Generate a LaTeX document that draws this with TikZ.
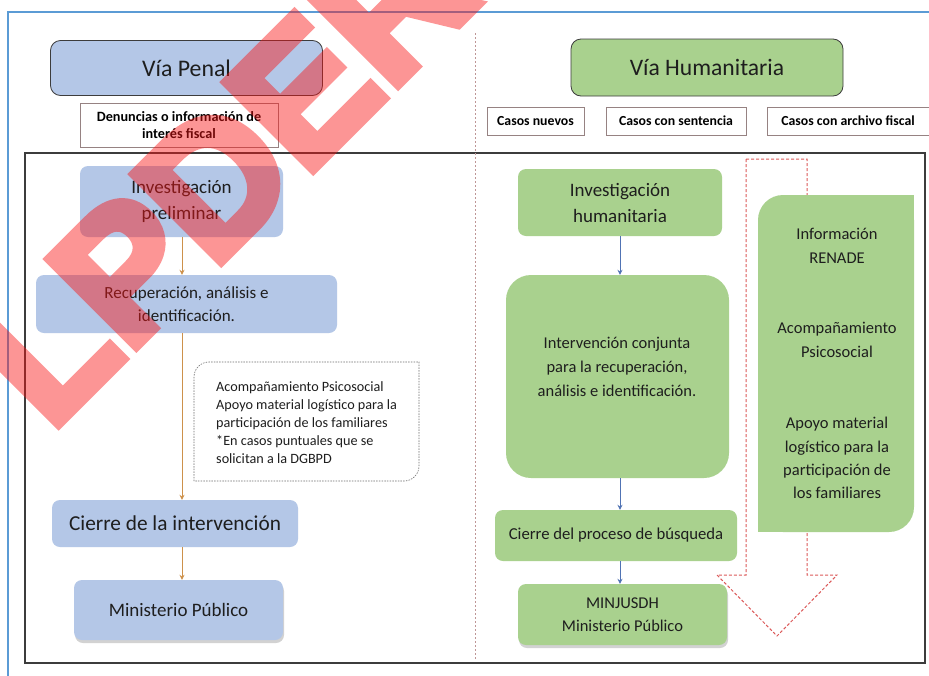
\documentclass[tikz,border=0pt]{standalone}
\usepackage{fontspec}
\setmainfont{Carlito}
\newfontfamily\wmfont[BoldFeatures={FakeBold=5}]{Liberation Sans}
\usetikzlibrary{arrows.meta,shadows}
\definecolor{bluefill}{RGB}{180,199,231}
\definecolor{greenfill}{RGB}{169,209,142}
\definecolor{framebl}{RGB}{91,155,213}
\definecolor{framedk}{RGB}{60,60,60}
\definecolor{txtdk}{RGB}{30,30,30}
\definecolor{lblborder}{RGB}{150,130,130}
\definecolor{orarr}{RGB}{205,145,75}
\definecolor{blarr}{RGB}{80,115,180}
\definecolor{divcol}{RGB}{190,150,150}
\definecolor{redarr}{RGB}{220,90,90}
\definecolor{notecol}{RGB}{110,110,110}
\definecolor{wmred}{RGB}{250,20,20}
\begin{document}
\begin{tikzpicture}[x=1pt,y=-1pt,
  pbox/.style={fill=bluefill, rounded corners=8pt, inner sep=0pt, align=center, text=txtdk},
  hbox/.style={fill=greenfill, rounded corners=8pt, inner sep=0pt, align=center, text=txtdk},
  lbl/.style={draw=lblborder, line width=0.6pt, fill=white, inner sep=0pt, align=center, text=black,
    font=\bfseries\fontsize{13.8}{16}\selectfont},
  parr/.style={draw=orarr, line width=1pt, -{Stealth[length=5pt,width=5pt]}},
  harr/.style={draw=blarr, line width=1pt, -{Stealth[length=5pt,width=5pt]}},
  shd/.style={drop shadow={opacity=0.35, shadow xshift=1pt, shadow yshift=-3pt}},
  plain/.style={inner sep=0pt, align=center, text=txtdk}]
\useasboundingbox (0,0) rectangle (929,675);
\clip (0,0) rectangle (929,675);
\fill[white] (0,0) rectangle (929,675);
% frames
\draw[framebl, line width=1.3pt] (8,690) -- (8,12) -- (940,12);
\draw[framedk, line width=1.6pt] (25,153) rectangle (925,663);
\draw[divcol, line width=0.9pt, dash pattern=on 2pt off 2pt] (475,33) -- (475,660);
% left side
\node[pbox, draw=framedk, line width=0.8pt, rounded corners=10pt, minimum width=272pt, minimum height=55pt,
  font=\fontsize{23.8}{28}\selectfont] (vp) at (186.5,68) {Vía Penal};
\node[lbl, minimum width=198pt, minimum height=44pt, font=\bfseries\fontsize{14.2}{17}\selectfont] (den) at (179,125)
  {Denuncias o información de\\interés fiscal};
\node[pbox, minimum width=203pt, minimum height=71pt, font=\fontsize{19}{26}\selectfont] (ip) at (181.5,201.5)
  {Investigación\\preliminar};
\node[pbox, minimum width=301pt, minimum height=58pt, font=\fontsize{17}{23}\selectfont] (rec) at (186.5,304)
  {Recuperación, análisis e\\identificación.};
\node[pbox, minimum width=246pt, minimum height=47pt, font=\fontsize{21.3}{26}\selectfont] (ci) at (175,523.5)
  {Cierre de la intervención};
\node[pbox, shd, minimum width=209pt, minimum height=60pt, font=\fontsize{19}{24}\selectfont] (mp) at (178.5,610)
  {Ministerio Público};
% note box
\draw[notecol, line width=0.6pt, dash pattern=on 1.5pt off 1.2pt, fill=white]
  (194,481) -- (194,377) .. controls (194,368.7) and (200.7,362) .. (209,362) -- (419,362)
  -- (419,466) .. controls (419,474.3) and (412.3,481) .. (404,481) -- cycle;
\node[plain, align=left, anchor=west, font=\fontsize{14.2}{18}\selectfont] (note) at (216,422.5)
  {Acompañamiento Psicosocial\\Apoyo material logístico para la\\participación de los familiares\\*En casos puntuales que se\\solicitan a la DGBPD};
% left arrows
\coordinate (pa) at (182,0);
\draw[parr] (ip.south -| pa) -- (rec.north -| pa);
\draw[parr] (rec.south -| pa) -- (ci.north -| pa);
\draw[parr] (ci.south -| pa) -- (mp.north -| pa);
% right side
\node[hbox, draw=framedk, line width=0.8pt, rounded corners=10pt, minimum width=272pt, minimum height=57pt,
  font=\fontsize{23.6}{28}\selectfont] (vh) at (707,67.5) {Vía Humanitaria};
\node[lbl, minimum width=97pt, minimum height=28pt] (cn) at (535.5,121) {Casos nuevos};
\node[lbl, minimum width=140pt, minimum height=28pt] (cs) at (676,121) {Casos con sentencia};
\node[lbl, minimum width=162pt, minimum height=28pt] (ca) at (848,121) {Casos con archivo fiscal};
% dashed red arrow shape
\draw[redarr, line width=1pt, dash pattern=on 3pt off 2pt]
  (746,159) -- (807,159) -- (807,575) -- (837,575) -- (777,636) -- (717,575) -- (746,575) -- cycle;
% tall green box
\fill[greenfill, rounded corners=25pt] (758,195) rectangle (914,532);
\fill[greenfill] (836,195) rectangle (914,364);
\fill[greenfill] (758,364) rectangle (836,532);
\node[plain, font=\fontsize{16.5}{24}\selectfont] (t1) at (837,246) {Información\\RENADE};
\node[plain, font=\fontsize{16.5}{24}\selectfont] (t2) at (837,340) {Acompañamiento\\Psicosocial};
\node[plain, font=\fontsize{16.5}{23.3}\selectfont] (t3) at (837,458) {Apoyo material\\logístico para la\\participación de\\los familiares};
% flow boxes
\node[hbox, minimum width=204pt, minimum height=67pt, font=\fontsize{19}{26}\selectfont] (ih) at (620,202.5)
  {Investigación\\humanitaria};
\node[hbox, rounded corners=25pt, minimum width=223pt, minimum height=203pt] (ic) at (617.5,376.5) {};
\node[plain, font=\fontsize{16.5}{24}\selectfont] (ict) at (617,367)
  {Intervención conjunta\\para la recuperación,\\análisis e identificación.};
\node[hbox, minimum width=242pt, minimum height=51pt, font=\fontsize{16.7}{22}\selectfont] (cp) at (616,535.5)
  {Cierre del proceso de búsqueda};
\node[hbox, shd, minimum width=209pt, minimum height=61pt, font=\fontsize{16.5}{23}\selectfont] (mj) at (622.5,614.5)
  {MINJUSDH\\Ministerio Público};
\coordinate (ha) at (620,0);
\draw[harr] (ih.south -| ha) -- (ic.north -| ha);
\draw[harr] (ic.south -| ha) -- (cp.north -| ha);
\draw[harr] (cp.south -| ha) -- (mj.north -| ha);
% watermark
\begin{scope}[transparency group, opacity=0.45]
\node[rotate=45, anchor=base west, inner sep=0pt, text=wmred,
  font=\wmfont\bfseries\fontsize{180}{180}\selectfont] (wm) at (50,433) {LPDER};
\end{scope}
\end{tikzpicture}
\end{document}
